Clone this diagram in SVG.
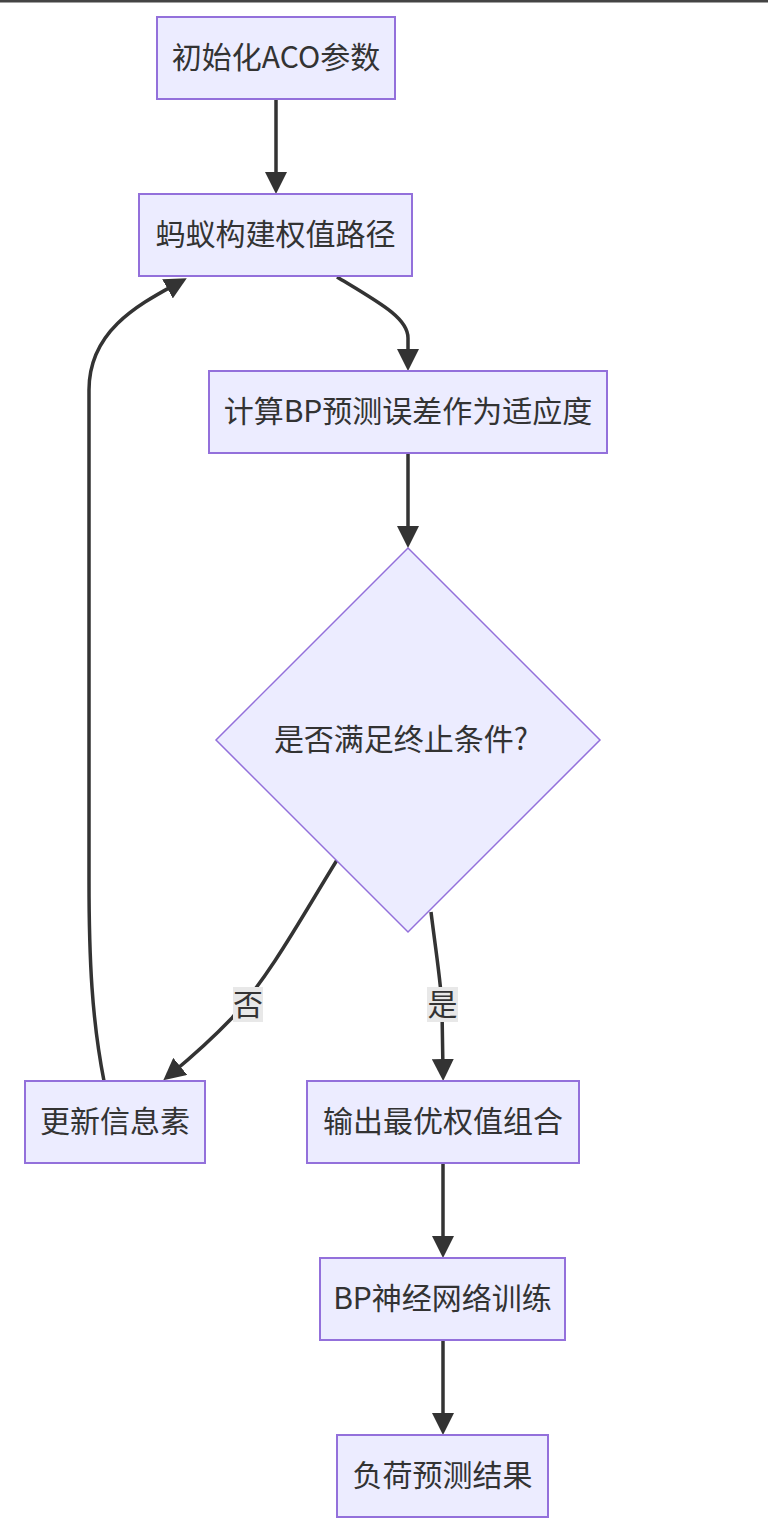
<svg xmlns="http://www.w3.org/2000/svg" width="768" height="1526" viewBox="0 0 768 1526">
<style>
.node rect, .node polygon { fill: #ECECFF; stroke: #9370DB; stroke-width: 2; }
.node polygon { stroke-width: 1.5; }
.node text, .label text { font-family: "Noto Sans CJK SC", "Noto Sans", sans-serif; font-size: 30px; fill: #333333; text-anchor: middle; dominant-baseline: central; }
.edges path { fill: none; stroke: #333333; stroke-width: 3.5; marker-end: url(#arrow); }
.label rect { fill: #E8E8E8; }
</style>
<defs>
<marker id="arrow" markerUnits="userSpaceOnUse" viewBox="0 0 22 22" refX="12" refY="11" markerWidth="22" markerHeight="22" orient="auto">
<path d="M0,0 L22,11 L0,22 z" fill="#333333"/>
</marker>
</defs>
<rect x="0" y="0" width="768" height="2.5" fill="#444444"/>
<g class="edges">
<path d="M276,99 L276,184"/>
<path d="M337,277 C380,303 408,318 408,338 L408,361"/>
<path d="M408,453 L408,538"/>
<path d="M337,860 C300,920 272,972 232,1018 Q205,1046 171,1074"/>
<path d="M431,912 C437,960 442,990 442,1010 L443,1071"/>
<path d="M443,1163 L443,1248"/>
<path d="M443,1340 L443,1425"/>
<path d="M104,1081 C92,1020 89,960 89,880 L89,390 C89,330 140,304 178,283"/>
</g>
<g class="label" id="label-no">
<rect x="233" y="987" width="30" height="35"/>
<text x="248" y="1002">否</text>
</g>
<g class="label" id="label-yes">
<rect x="427" y="987" width="31" height="35"/>
<text x="442.5" y="1002">是</text>
</g>
<g class="node" id="n1">
<rect x="157" y="17" width="238" height="82"/>
<text x="276" y="55">初始化ACO参数</text>
</g>
<g class="node" id="n2">
<rect x="139" y="194" width="273" height="82"/>
<text x="275.5" y="232">蚂蚁构建权值路径</text>
</g>
<g class="node" id="n3">
<rect x="209" y="371" width="398" height="82"/>
<text x="408" y="409">计算BP预测误差作为适应度</text>
</g>
<g class="node" id="n4">
<polygon points="408,548 600,740 408,932 216,740"/>
<text x="401" y="737">是否满足终止条件?</text>
</g>
<g class="node" id="n5">
<rect x="25" y="1081" width="180" height="82"/>
<text x="115" y="1119">更新信息素</text>
</g>
<g class="node" id="n6">
<rect x="307" y="1081" width="272" height="82"/>
<text x="443" y="1119">输出最优权值组合</text>
</g>
<g class="node" id="n7">
<rect x="320" y="1258" width="245" height="82"/>
<text x="442.5" y="1296">BP神经网络训练</text>
</g>
<g class="node" id="n8">
<rect x="337" y="1435" width="211" height="82"/>
<text x="442.5" y="1473">负荷预测结果</text>
</g>
</svg>
